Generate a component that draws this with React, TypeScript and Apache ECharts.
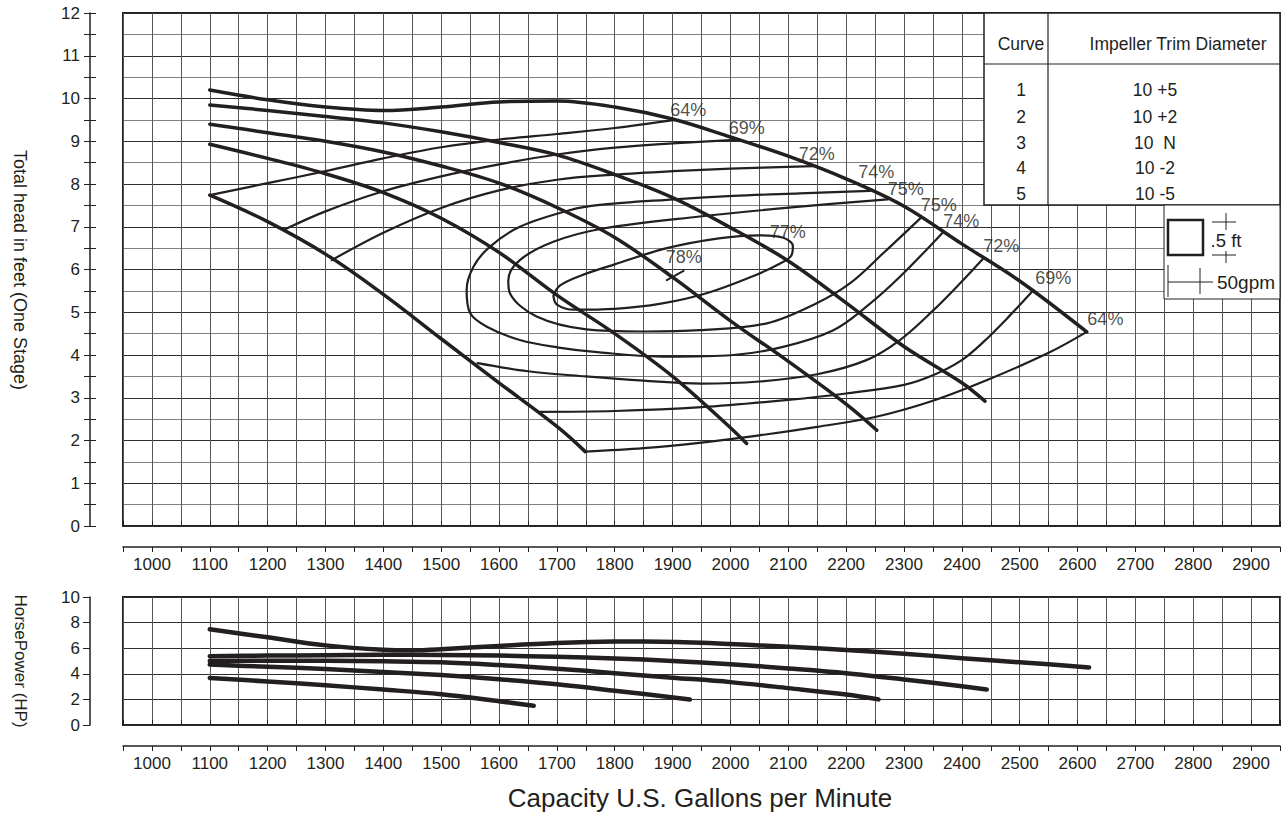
import React, { useEffect, useRef } from "react";
import * as echarts from "echarts";

const FONT = "'Liberation Sans', Arial, Helvetica, sans-serif";
const INK = "#231f20";

// ---- Data (GPM, feet) ----
const HEAD_CURVE_1 = [[1100,10.2],[1200,9.97],[1300,9.8],[1400,9.72],[1500,9.8],[1600,9.92],[1700,9.94],[1800,9.8],[1900,9.52],[2000,9.1],[2100,8.65],[2200,8.12],[2300,7.48],[2400,6.6],[2500,5.73],[2616,4.54]];
const HEAD_CURVE_2 = [[1100,9.85],[1200,9.72],[1300,9.58],[1400,9.43],[1500,9.22],[1600,8.97],[1700,8.68],[1800,8.22],[1900,7.68],[2000,6.98],[2100,6.2],[2200,5.22],[2300,4.2],[2400,3.35],[2440,2.92]];
const HEAD_CURVE_3 = [[1100,9.4],[1200,9.2],[1300,9.0],[1400,8.75],[1500,8.42],[1600,8.02],[1700,7.45],[1800,6.75],[1900,5.82],[2000,4.8],[2100,3.85],[2200,2.85],[2253,2.24]];
const HEAD_CURVE_4 = [[1100,8.93],[1200,8.6],[1300,8.24],[1400,7.8],[1500,7.2],[1600,6.4],[1700,5.4],[1800,4.5],[1900,3.5],[2000,2.3],[2028,1.93]];
const HEAD_CURVE_5 = [[1100,7.74],[1200,7.12],[1300,6.36],[1400,5.42],[1500,4.38],[1600,3.35],[1700,2.33],[1749,1.74]];

const EFF_64_UPPER = [[1100,7.74],[1200,8.02],[1300,8.3],[1400,8.6],[1500,8.86],[1600,9.04],[1700,9.17],[1800,9.31],[1905,9.5]];
const EFF_64_LOWER = [[1749,1.74],[1850,1.82],[1950,1.95],[2050,2.12],[2150,2.32],[2250,2.55],[2350,2.93],[2450,3.45],[2550,4.05],[2616,4.54]];
const EFF_69_UPPER = [[1230,6.94],[1300,7.36],[1400,7.83],[1500,8.18],[1600,8.46],[1700,8.69],[1800,8.85],[1900,8.95],[2016,9.04]];
const EFF_69_LOWER = [[1669,2.67],[1800,2.69],[1950,2.78],[2100,2.95],[2200,3.1],[2300,3.3],[2351,3.53],[2400,3.88],[2437,4.3],[2480,4.88],[2524,5.52]];
const EFF_72_UPPER = [[1311,6.22],[1400,6.86],[1500,7.44],[1600,7.85],[1700,8.1],[1800,8.22],[1900,8.3],[2000,8.36],[2143,8.42]];
const EFF_72_LOWER = [[1563,3.81],[1650,3.62],[1750,3.5],[1850,3.4],[1950,3.33],[2050,3.38],[2150,3.55],[2235,3.88],[2293,4.35],[2351,5.05],[2395,5.65],[2437,6.26]];
const EFF_74 = [[2241,7.84],[2120,7.78],[2005,7.72],[1890,7.63],[1774,7.51],[1723,7.39],[1636,7.0],[1584,6.53],[1556,6.07],[1544,5.52],[1550,4.98],[1579,4.66],[1636,4.35],[1700,4.18],[1774,4.06],[1890,3.96],[2005,4.0],[2091,4.19],[2178,4.58],[2235,5.13],[2293,5.83],[2368,6.88]];
const EFF_75 = [[2272,7.64],[2120,7.47],[1947,7.24],[1780,6.96],[1694,6.65],[1636,6.22],[1616,5.75],[1619,5.44],[1665,4.9],[1751,4.6],[1850,4.55],[1947,4.58],[2063,4.74],[2149,5.21],[2207,5.68],[2264,6.38],[2330,7.22]];
const EFF_77 = [[1694,5.38],[1705,5.62],[1740,5.85],[1800,6.12],[1890,6.5],[1980,6.73],[2050,6.8],[2090,6.75],[2108,6.55],[2105,6.32],[2080,6.1],[2040,5.85],[1960,5.45],[1880,5.2],[1800,5.08],[1730,5.06],[1700,5.18],[1694,5.38]];
const BEP_78_MARK = [[1890,5.75],[1919,5.97]];

const EFF_LABELS: [number, number, string][] = [
  [1928,9.71,"64%"],[2029,9.29,"69%"],[2150,8.68,"72%"],[2253,8.26,"74%"],[2304,7.88,"75%"],
  [2361,7.49,"75%"],[2400,7.13,"74%"],[2469,6.53,"72%"],[2559,5.78,"69%"],[2649,4.82,"64%"],
  [2100,6.86,"77%"],[1920,6.27,"78%"],
];

// ---- Data (GPM, HP) ----
const HP_CURVE_1 = [[1100,7.48],[1200,6.85],[1300,6.22],[1400,5.88],[1450,5.84],[1500,5.92],[1600,6.18],[1700,6.4],[1800,6.52],[1850,6.53],[1950,6.43],[2050,6.22],[2150,6.0],[2250,5.72],[2350,5.4],[2450,5.05],[2550,4.75],[2620,4.5]];
const HP_CURVE_2 = [[1100,5.38],[1200,5.42],[1300,5.45],[1400,5.48],[1500,5.47],[1600,5.42],[1700,5.33],[1800,5.2],[1900,5.0],[2000,4.75],[2100,4.42],[2200,4.05],[2300,3.56],[2400,3.02],[2443,2.78]];
const HP_CURVE_3 = [[1100,5.0],[1200,5.02],[1300,5.02],[1400,4.98],[1500,4.9],[1600,4.68],[1700,4.4],[1800,4.05],[1900,3.7],[2000,3.35],[2100,2.88],[2200,2.38],[2256,2.0]];
const HP_CURVE_4 = [[1100,4.72],[1200,4.55],[1300,4.37],[1400,4.15],[1500,3.9],[1600,3.58],[1700,3.18],[1800,2.68],[1930,2.0]];
const HP_CURVE_5 = [[1100,3.68],[1200,3.4],[1300,3.1],[1400,2.77],[1500,2.4],[1600,1.86],[1660,1.5]];

// ---- Table ----
const TABLE_CURVES = ["1", "2", "3", "4", "5"];
const TABLE_TRIMS = ["10 +5", "10 +2", "10  N", "10 -2", "10 -5"];

const GPM_MIN = 950;
const GPM_MAX = 2950;
const GPM_STEP = 50;

function xAxes(gridIndex: number) {
  const common = {
    type: "value",
    gridIndex,
    min: GPM_MIN,
    max: GPM_MAX,
    interval: GPM_STEP,
    position: "bottom",
    offset: 21,
  };
  return [
    {
      ...common,
      axisLine: { show: true, onZero: false, lineStyle: { color: INK, width: 1.5 } },
      axisTick: { show: true, length: 5, lineStyle: { color: INK, width: 1 } },
      axisLabel: {
        show: true,
        color: INK,
        fontSize: 17,
        fontFamily: FONT,
        margin: 9,
        formatter: (v: number) => (v % 100 === 0 ? String(v) : ""),
      },
      splitLine: { show: true, lineStyle: { color: "#555555", width: 1 } },
    },
    {
      ...common,
      axisLine: { show: false },
      axisTick: { show: true, inside: true, length: 5, lineStyle: { color: INK, width: 1 } },
      axisLabel: { show: false },
      splitLine: { show: false },
    },
  ];
}

function line(data: number[][], xi: number, yi: number, width: number, smooth = 0.35) {
  return {
    type: "line",
    xAxisIndex: xi,
    yAxisIndex: yi,
    data,
    symbol: "none",
    showSymbol: false,
    smooth,
    silent: true,
    lineStyle: { color: INK, width, cap: "round", join: "round" },
    z: 5,
  };
}

export default function App() {
  const ref = useRef<HTMLDivElement>(null);

  useEffect(() => {
    document.body.style.margin = "0";
    document.body.style.overflow = "hidden";
    if (!ref.current) return;
    const chart = echarts.init(ref.current, null, { renderer: "svg" });

    const txt = (x: number, y: number, text: string, size: number, rotation = 0) => ({
      type: "text",
      x,
      y,
      rotation,
      z: 110,
      style: {
        text,
        fill: INK,
        font: `${size}px ${FONT}`,
        textAlign: "center",
        textVerticalAlign: "middle",
      },
    });
    const seg = (x1: number, y1: number, x2: number, y2: number, w = 1) => ({
      type: "line",
      z: 110,
      shape: { x1, y1, x2, y2 },
      style: { stroke: INK, lineWidth: w },
    });

    const rowY = [90, 116.5, 142.5, 168, 193.5];

    const graphics: any[] = [
      // table
      { type: "rect", z: 100, shape: { x: 984, y: 13, width: 296, height: 192 }, style: { fill: "#fff", stroke: INK, lineWidth: 1.5 } },
      seg(984, 64, 1280, 64, 1.2),
      seg(1048, 13, 1048, 205, 1.2),
      txt(1021, 44, "Curve", 17.5),
      txt(1178, 44, "Impeller Trim Diameter", 17.5),
      ...TABLE_CURVES.map((c, i) => txt(1021, rowY[i], c, 17.5)),
      ...TABLE_TRIMS.map((t, i) => txt(1155, rowY[i], t, 17.5)),
      // scale legend
      { type: "rect", z: 100, shape: { x: 1164, y: 205, width: 116, height: 94 }, style: { fill: "#fff", stroke: INK, lineWidth: 1 } },
      { type: "rect", z: 110, shape: { x: 1168, y: 220, width: 35, height: 35 }, style: { fill: "none", stroke: INK, lineWidth: 2.5 } },
      seg(1212, 222, 1236, 222),
      seg(1226, 213, 1226, 230),
      seg(1212, 255, 1236, 255),
      seg(1226, 251, 1226, 263),
      txt(1226, 240, ".5 ft", 18.5),
      seg(1168, 265, 1168, 297),
      seg(1200, 268, 1200, 294),
      seg(1168, 282, 1213, 282),
      txt(1246, 282, "50gpm", 19),
      // axis titles
      txt(20, 270, "Total head in feet (One Stage)", 18, -Math.PI / 2),
      txt(20, 661, "HorsePower (HP)", 17, -Math.PI / 2),
      txt(700, 798, "Capacity U.S. Gallons per Minute", 26),
    ];

    const labelSeries = {
      type: "scatter",
      xAxisIndex: 0,
      yAxisIndex: 0,
      symbolSize: 1,
      itemStyle: { color: "rgba(0,0,0,0)" },
      silent: true,
      z: 6,
      data: EFF_LABELS.map(([x, y, t]) => ({ value: [x, y], name: t })),
      label: {
        show: true,
        position: [0, 0],
        align: "center",
        verticalAlign: "middle",
        formatter: (p: any) => p.name,
        color: INK,
        fontSize: 18,
        fontFamily: FONT,
      },
    };

    const option: any = {
      animation: false,
      backgroundColor: "#fff",
      grid: [
        { left: 123, top: 13, width: 1157, height: 513, show: true, borderColor: INK, borderWidth: 2, backgroundColor: "transparent", containLabel: false, outerBoundsMode: "none" },
        { left: 123, top: 597, width: 1157, height: 128, show: true, borderColor: INK, borderWidth: 2, backgroundColor: "transparent", containLabel: false, outerBoundsMode: "none" },
      ],
      xAxis: [...xAxes(0), ...xAxes(1)],
      yAxis: [
        {
          type: "value", gridIndex: 0, min: 0, max: 12, interval: 1, position: "left", offset: 33,
          axisLine: { show: true, onZero: false, lineStyle: { color: INK, width: 1.5 } },
          axisTick: { show: true, length: 6, lineStyle: { color: INK } },
          minorTick: { show: true, splitNumber: 2, length: 6, lineStyle: { color: INK } },
          axisLabel: { color: INK, fontSize: 17, fontFamily: FONT, margin: 10 },
          splitLine: { show: true, lineStyle: { color: "#2e2e2e", width: 1 } },
          minorSplitLine: { show: true, lineStyle: { color: "#808080", width: 1 } },
        },
        {
          type: "value", gridIndex: 0, min: 0, max: 12, interval: 1, position: "left", offset: 33,
          axisLine: { show: false },
          axisTick: { show: true, inside: true, length: 6, lineStyle: { color: INK } },
          minorTick: { show: true, splitNumber: 2, length: 6, lineStyle: { color: INK } },
          axisLabel: { show: false },
          splitLine: { show: false },
        },
        {
          type: "value", gridIndex: 1, min: 0, max: 10, interval: 2, position: "left", offset: 33,
          axisLine: { show: true, onZero: false, lineStyle: { color: INK, width: 1.5 } },
          axisTick: { show: true, length: 7, lineStyle: { color: INK } },
          axisLabel: { color: INK, fontSize: 17, fontFamily: FONT, margin: 10 },
          splitLine: { show: true, lineStyle: { color: "#2e2e2e", width: 1 } },
        },
      ],
      series: [
        line(HEAD_CURVE_1, 0, 0, 3.5),
        line(HEAD_CURVE_2, 0, 0, 3.5),
        line(HEAD_CURVE_3, 0, 0, 3.5),
        line(HEAD_CURVE_4, 0, 0, 3.5),
        line(HEAD_CURVE_5, 0, 0, 3.5, 0.4),
        line(EFF_64_UPPER, 0, 0, 2.2),
        line(EFF_64_LOWER, 0, 0, 2.2),
        line(EFF_69_UPPER, 0, 0, 2.2),
        line(EFF_69_LOWER, 0, 0, 2.2),
        line(EFF_72_UPPER, 0, 0, 2.2),
        line(EFF_72_LOWER, 0, 0, 2.2),
        line(EFF_74, 0, 0, 2.2),
        line(EFF_75, 0, 0, 2.2),
        line(EFF_77, 0, 0, 2.2),
        line(BEP_78_MARK, 0, 0, 2, 0),
        labelSeries,
        line(HP_CURVE_1, 2, 2, 4.5),
        line(HP_CURVE_2, 2, 2, 4.5),
        line(HP_CURVE_3, 2, 2, 4.5),
        line(HP_CURVE_4, 2, 2, 4.5),
        line(HP_CURVE_5, 2, 2, 4.5),
      ],
      graphic: graphics,
    };

    chart.setOption(option);
    return () => chart.dispose();
  }, []);

  return (
    <div
      ref={ref}
      style={{ position: "absolute", left: 0, top: 0, width: 1288, height: 816, background: "#fff" }}
    />
  );
}
